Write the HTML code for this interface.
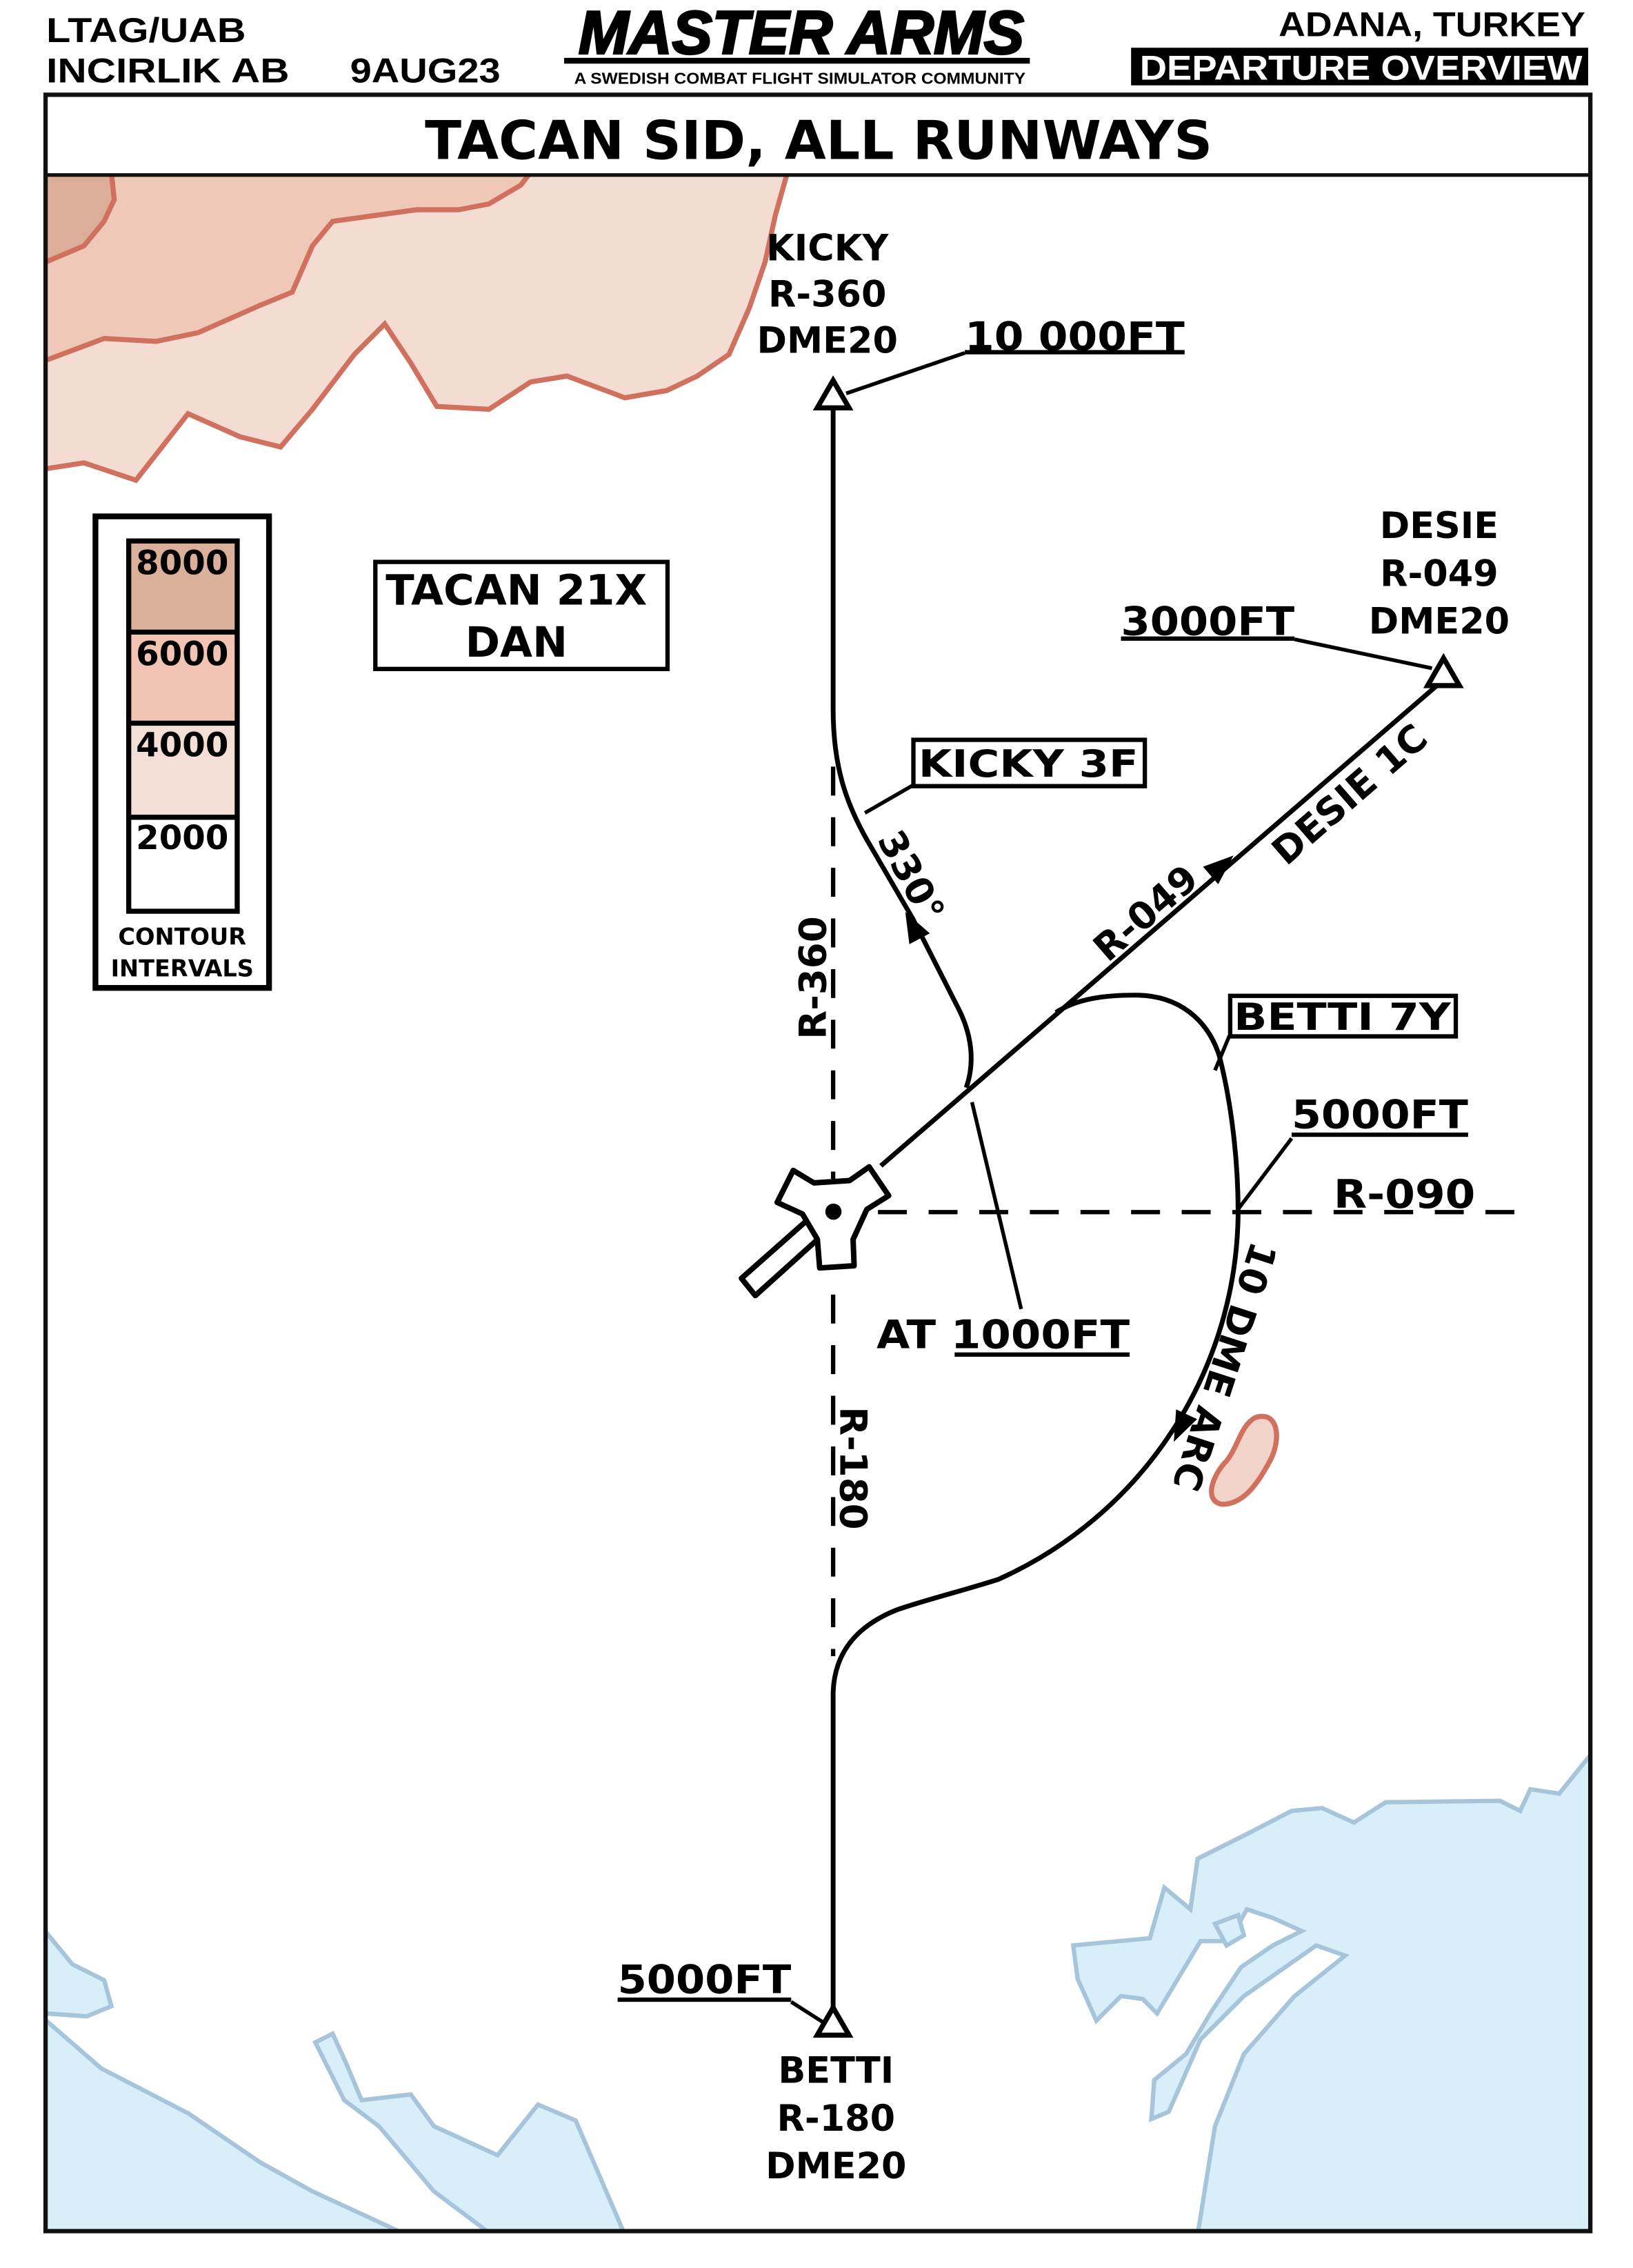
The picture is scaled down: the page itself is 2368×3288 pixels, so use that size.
<!DOCTYPE html>
<html><head><meta charset="utf-8"><style>
html,body{margin:0;padding:0;background:#fff}
svg{display:block}
.b{font-family:"DejaVu Sans","Liberation Sans",sans-serif;font-weight:bold;fill:#000}
.h{font-family:"Liberation Sans Narrow","Liberation Sans",sans-serif;font-weight:bold;fill:#000}
</style></head><body>
<svg width="2368" height="3288" viewBox="0 0 1129 1568" preserveAspectRatio="none" xmlns="http://www.w3.org/2000/svg">
<rect width="1129" height="1568" fill="#fff"/>
<!-- header -->
<text class="h" x="32" y="29" font-size="24" textLength="138" lengthAdjust="spacingAndGlyphs">LTAG/UAB</text>
<text class="h" x="32" y="57" font-size="24" textLength="168" lengthAdjust="spacingAndGlyphs">INCIRLIK AB</text>
<text class="h" x="242" y="57" font-size="24" textLength="104" lengthAdjust="spacingAndGlyphs">9AUG23</text>
<text class="h" x="400" y="37" font-size="42" font-style="italic" textLength="308" lengthAdjust="spacingAndGlyphs" style="font-weight:900;stroke:#000;stroke-width:1.5">MASTER ARMS</text>
<rect x="390" y="40" width="322" height="4" fill="#000"/>
<text class="h" x="397" y="58" font-size="11" textLength="312" lengthAdjust="spacingAndGlyphs">A SWEDISH COMBAT FLIGHT SIMULATOR COMMUNITY</text>
<text class="h" x="1096" y="25" font-size="24" text-anchor="end" textLength="212" lengthAdjust="spacingAndGlyphs">ADANA, TURKEY</text>
<rect x="782" y="33" width="316" height="26" fill="#000"/>
<text class="h" x="788" y="55" font-size="24" style="fill:#fff" textLength="306" lengthAdjust="spacingAndGlyphs">DEPARTURE OVERVIEW</text>

<clipPath id="m"><rect x="32" y="121" width="1067" height="1421"/></clipPath>
<g clip-path="url(#m)">
<path d="M20 324 L32 324 L58 320 L94 332 L130 286 L166 302 L194 309 L216 283 L245 245 L266 224 L284 251 L302 281 L338 283 L367 264 L392 260 L432 275 L461 270 L482 260 L504 245 L518 213 L529 181 L536 149 L547 110 L20 110 Z" fill="#f5dcd2" stroke="#d0705e" stroke-width="3.5"/>
<path d="M20 249 L32 249 L72 234 L108 236 L137 230 L180 211 L202 202 L216 170 L230 153 L259 149 L288 145 L317 145 L338 141 L360 128 L374 110 L20 110 Z" fill="#f0c8b7" stroke="#d0705e" stroke-width="3.5"/>
<path d="M20 181 L32 181 L58 170 L72 153 L79 138 L76 110 L20 110 Z" fill="#dcae99" stroke="#d0705e" stroke-width="3.5"/>
<g fill="#d8eef9" stroke="#a7c5da" stroke-width="3">
<path d="M25 1330 L32 1336 L50 1358 L72 1369 L77 1387 L60 1394 L32 1392 L25 1392 Z"/>
<path d="M25 1395 L32 1397 L70 1430 L130 1461 L180 1495 L216 1515 L281 1545 L25 1545 Z"/>
<path d="M218 1412 L230 1406 L240 1428 L250 1452 L284 1448 L300 1470 L344 1490 L372 1455 L398 1466 L432 1545 L340 1545 L300 1515 L262 1470 L238 1452 Z"/>
<path d="M1105 1210 L1099 1214 L1078 1240 L1058 1237 L1051 1252 L1037 1245 L958 1246 L936 1260 L914 1250 L893 1252 L862 1268 L828 1285 L823 1320 L805 1305 L795 1340 L742 1345 L745 1368 L758 1397 L775 1380 L790 1382 L800 1392 L812 1372 L830 1342 L850 1342 L862 1320 L880 1326 L900 1335 L880 1345 L858 1360 L838 1390 L820 1420 L798 1438 L796 1465 L808 1460 L830 1410 L860 1380 L910 1345 L930 1352 L895 1380 L860 1420 L840 1470 L828 1545 L1105 1545 Z"/>
<path d="M840 1330 L856 1324 L860 1338 L848 1345 Z"/>
</g>
<path d="M868 980 C884 975 886 995 878 1010 C870 1025 860 1040 845 1040 C832 1038 838 1020 848 1010 C856 1000 858 985 868 980 Z" fill="#f2d3c9" stroke="#d0705e" stroke-width="3.5"/>
</g>

<rect x="31.5" y="65.5" width="1068" height="1477" fill="none" stroke="#111" stroke-width="3"/>
<line x1="31" y1="121" x2="1100" y2="121" stroke="#111" stroke-width="2.5"/>
<text class="b" x="566" y="110" font-size="37" text-anchor="middle">TACAN SID, ALL RUNWAYS</text>

<rect x="66" y="357" width="120" height="326" fill="#fff" stroke="#000" stroke-width="4"/>
<rect x="89" y="374" width="75" height="63" fill="#dbb09b"/>
<rect x="89" y="437" width="75" height="63" fill="#f2c4b4"/>
<rect x="89" y="500" width="75" height="65" fill="#f4dfd6"/>
<rect x="89" y="565" width="75" height="65" fill="#fff"/>
<g stroke="#000" stroke-width="3.5" fill="none"><rect x="89" y="374" width="75" height="256"/><line x1="89" y1="437" x2="164" y2="437"/><line x1="89" y1="500" x2="164" y2="500"/><line x1="89" y1="565" x2="164" y2="565"/></g>
<text class="b" x="126" y="397" font-size="23" text-anchor="middle">8000</text>
<text class="b" x="126" y="460" font-size="23" text-anchor="middle">6000</text>
<text class="b" x="126" y="523" font-size="23" text-anchor="middle">4000</text>
<text class="b" x="126" y="587" font-size="23" text-anchor="middle">2000</text>
<text class="b" x="126" y="653" font-size="16" text-anchor="middle">CONTOUR</text>
<text class="b" x="126" y="675" font-size="16" text-anchor="middle">INTERVALS</text>

<rect x="259.5" y="388.5" width="202" height="74" fill="#fff" stroke="#000" stroke-width="3"/>
<text class="b" x="357" y="418" font-size="29" text-anchor="middle">TACAN 21X</text>
<text class="b" x="357" y="454" font-size="29" text-anchor="middle">DAN</text>

<g stroke="#000" stroke-width="3" stroke-dasharray="20,15" fill="none">
<line x1="576" y1="530" x2="576" y2="815"/>
<line x1="576" y1="895" x2="576" y2="1145"/>
<line x1="607" y1="838" x2="1050" y2="838"/>
</g>

<g stroke="#000" stroke-width="3.3" fill="none" stroke-linejoin="round">
<path d="M576 280 L576 490 C576 530 585 555 599 580 L631 635 L663 698 C672 716 674 735 668 752"/>
<line x1="609" y1="806" x2="998" y2="470"/>
<path d="M730 700 C745 690 765 688 785 688 C815 688 835 705 843 730 C852 765 856 805 856 838 A280 280 0 0 1 690 1092 C665 1100 640 1106 620 1113 C595 1123 577 1140 576 1170 L576 1388"/>
<path d="M667 244 L585 272" stroke-width="2.6"/>
<path d="M895 442 L990 462" stroke-width="2.6"/>
<path d="M631 543 L598 562" stroke-width="2.6"/>
<path d="M706 905 L672 762" stroke-width="2.6"/>
<path d="M850 716 L840 740" stroke-width="2.6"/>
<path d="M893 787 L856 836" stroke-width="2.6"/>
<path d="M547 1384 L572 1400" stroke-width="2.6"/>
</g>
<polygon points="0,-13 8,8 -8,8" transform="translate(632,642) rotate(-28)" fill="#000"/>
<polygon points="0,-13 8,8 -8,8" transform="translate(843,600) rotate(49)" fill="#000"/>
<polygon points="0,-13 8,8 -8,8" transform="translate(817,985) rotate(205)" fill="#000"/>
<g fill="#fff" stroke="#000" stroke-width="3.5" stroke-linejoin="miter">
<polygon points="576,263 565,282 587,282"/>
<polygon points="998,455 987,474 1009,474"/>
<polygon points="576,1388 565,1407 587,1407"/>
</g>
<g stroke="#000" stroke-width="3.8" fill="#fff" stroke-linejoin="round">
<polygon points="512.6,883.8 522.2,895.7 570.7,852 561.1,840.9"/>
<polygon points="548.4,809.2 562.7,817.8 587.4,816.2 600.9,806.7 614.4,826.6 599.3,836.1 589.8,856.8 590.5,875.1 566.7,876.6 565.1,856.8 554.8,839.3 537.3,831.3"/>
</g>
<circle cx="576.2" cy="837.7" r="5.6" fill="#000"/>

<text class="b" x="572" y="180" font-size="25" text-anchor="middle">KICKY</text>
<text class="b" x="572" y="212" font-size="25" text-anchor="middle">R-360</text>
<text class="b" x="572" y="244" font-size="25" text-anchor="middle">DME20</text>
<text class="b" x="667" y="242" font-size="27" textLength="152" lengthAdjust="spacingAndGlyphs">10 000FT</text>
<rect x="667" y="242" width="152" height="3" fill="#000"/>
<text class="b" x="995" y="372" font-size="25" text-anchor="middle">DESIE</text>
<text class="b" x="995" y="405" font-size="25" text-anchor="middle">R-049</text>
<text class="b" x="995" y="438" font-size="25" text-anchor="middle">DME20</text>
<text class="b" x="775" y="439" font-size="27" textLength="120" lengthAdjust="spacingAndGlyphs">3000FT</text>
<rect x="775" y="440" width="120" height="3" fill="#000"/>
<rect x="631.5" y="511.5" width="160" height="32" fill="#fff" stroke="#000" stroke-width="3"/>
<text class="b" x="711" y="537" font-size="26" text-anchor="middle" textLength="152" lengthAdjust="spacingAndGlyphs">KICKY 3F</text>
<rect x="850.5" y="688.5" width="156" height="28" fill="#fff" stroke="#000" stroke-width="3"/>
<text class="b" x="928" y="712" font-size="26" text-anchor="middle" textLength="150" lengthAdjust="spacingAndGlyphs">BETTI 7Y</text>
<text class="b" x="893" y="780" font-size="27" textLength="122" lengthAdjust="spacingAndGlyphs">5000FT</text>
<rect x="893" y="783" width="122" height="3" fill="#000"/>
<text class="b" x="922" y="835" font-size="27" textLength="98" lengthAdjust="spacingAndGlyphs">R-090</text>
<text class="b" x="606" y="932" font-size="27" textLength="175" lengthAdjust="spacingAndGlyphs">AT 1000FT</text>
<rect x="660" y="935" width="121" height="3" fill="#000"/>
<text class="b" x="427" y="1378" font-size="27" textLength="120" lengthAdjust="spacingAndGlyphs">5000FT</text>
<rect x="427" y="1381" width="120" height="3" fill="#000"/>
<text class="b" x="578" y="1440" font-size="25" text-anchor="middle">BETTI</text>
<text class="b" x="578" y="1473" font-size="25" text-anchor="middle">R-180</text>
<text class="b" x="578" y="1506" font-size="25" text-anchor="middle">DME20</text>
<text class="b" font-size="26" text-anchor="middle" transform="translate(571,676) rotate(-90)">R-360</text>
<text class="b" font-size="26" text-anchor="middle" transform="translate(581,1015) rotate(90)">R-180</text>
<text class="b" font-size="26" text-anchor="middle" transform="translate(798,638) rotate(-41)">R-049</text>
<text class="b" font-size="26" text-anchor="middle" transform="translate(939,556) rotate(-41)">DESIE 1C</text>
<text class="b" font-size="26" text-anchor="middle" transform="translate(622,610) rotate(62)">330°</text>
<text class="b" font-size="26" text-anchor="middle" transform="translate(838,942) rotate(108)">10 DME ARC</text>
</svg>
</body></html>
